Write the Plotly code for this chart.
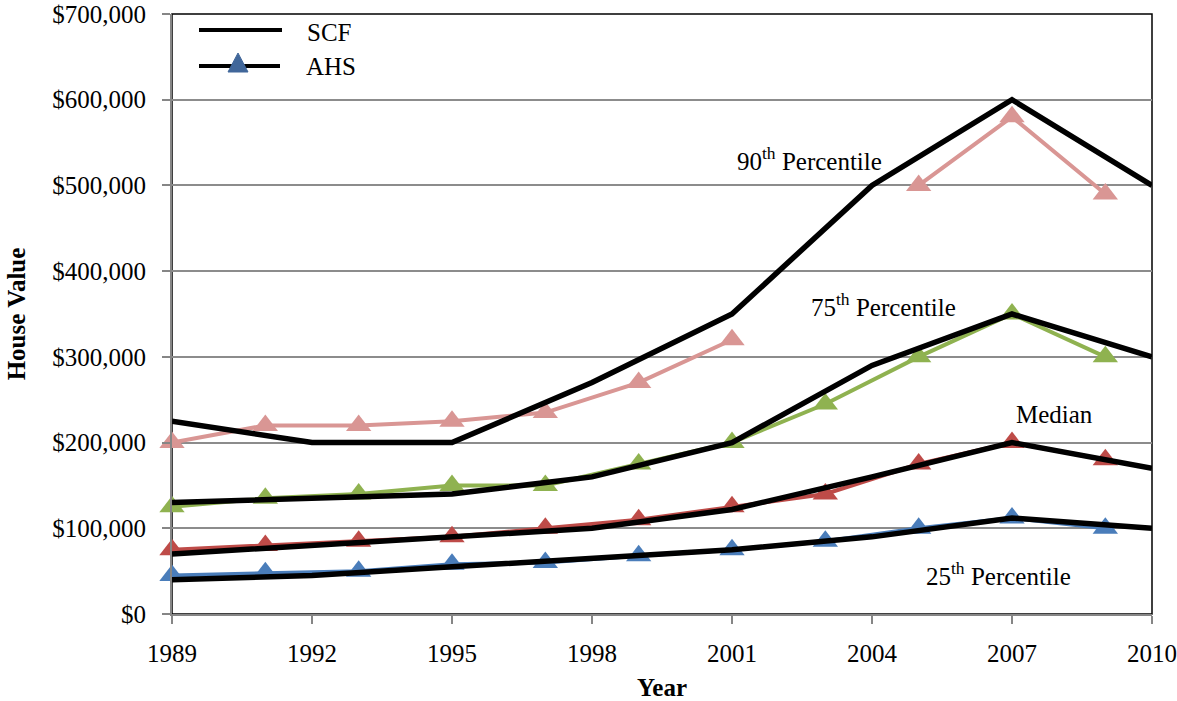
import plotly.graph_objects as go

# Survey years
scf_years = [1989, 1992, 1995, 1998, 2001, 2004, 2007, 2010]
ahs_years = [1989, 1991, 1993, 1995, 1997, 1999, 2001, 2003, 2005, 2007, 2009]

# SCF house value percentiles
scf_p90 = [225000, 200000, 200000, 270000, 350000, 500000, 600000, 500000]
scf_p75 = [130000, 135000, 140000, 160000, 200000, 290000, 350000, 300000]
scf_med = [70000, 80000, 90000, 100000, 122000, 160000, 200000, 170000]
scf_p25 = [40000, 45000, 55000, 65000, 75000, 90000, 112000, 100000]

# AHS house value percentiles (no 90th percentile value for 2003)
ahs_p90 = [200000, 220000, 220000, 225000, 235000, 270000, 320000, None, 500000, 580000, 490000]
ahs_p75 = [125000, 135000, 140000, 150000, 150000, 175000, 200000, 245000, 300000, 350000, 300000]
ahs_med = [75000, 80000, 85000, 90000, 100000, 110000, 125000, 140000, 175000, 200000, 180000]
ahs_p25 = [45000, 48000, 50000, 58000, 60000, 68000, 75000, 85000, 100000, 112000, 100000]

ahs_colors = {"p90": "#D99694", "p75": "#8FB250", "med": "#BE4B48", "p25": "#4A7DBA"}

# Percentile labels: (text, year, value)
labels = [
    ("90<sup>th</sup> Percentile", 2002.67, 531000),
    ("75<sup>th</sup> Percentile", 2004.25, 361000),
    ("Median", 2007.9, 233000),
    ("25<sup>th</sup> Percentile", 2006.7, 47000),
]

FONT = "'Liberation Serif', 'Times New Roman', serif"
W, H = 1177, 701
ML, MR, MT, MB = 172, 25, 14, 87


def paper_x(px):
    return (px - ML) / (W - ML - MR)


def paper_y(py):
    return (H - MB - py) / (H - MT - MB)


fig = go.Figure()

for key, vals in [("p90", ahs_p90), ("p75", ahs_p75), ("med", ahs_med), ("p25", ahs_p25)]:
    fig.add_trace(go.Scatter(
        x=ahs_years, y=vals, mode="lines+markers", connectgaps=False,
        line=dict(color=ahs_colors[key], width=4),
        marker=dict(symbol="triangle-up", size=22, color=ahs_colors[key]),
        showlegend=False, cliponaxis=False,
    ))

for vals in [scf_p90, scf_p75, scf_med, scf_p25]:
    fig.add_trace(go.Scatter(
        x=scf_years, y=vals, mode="lines",
        line=dict(color="black", width=5.5),
        showlegend=False, cliponaxis=False,
    ))

for text, yr, val in labels:
    fig.add_annotation(x=yr, y=val, text=text, showarrow=False,
                       font=dict(family=FONT, size=25, color="black"),
                       xanchor="center", yanchor="middle")

# Plot-area frame (top and right edges show in black)
shapes = [dict(type="rect", xref="paper", yref="paper", x0=0, x1=1, y0=0, y1=1,
               line=dict(color="black", width=1.5), layer="below")]

# Legend key
shapes.append(dict(type="line", xref="paper", yref="paper",
                   x0=paper_x(199), x1=paper_x(282), y0=paper_y(30), y1=paper_y(30),
                   line=dict(color="black", width=4)))
shapes.append(dict(type="line", xref="paper", yref="paper",
                   x0=paper_x(199), x1=paper_x(280), y0=paper_y(66), y1=paper_y(66),
                   line=dict(color="black", width=4)))
tri = "M {} {} L {} {} L {} {} Z".format(
    paper_x(228), paper_y(72), paper_x(248), paper_y(72), paper_x(238), paper_y(53))
shapes.append(dict(type="path", xref="paper", yref="paper", path=tri,
                   fillcolor="#41679A", line=dict(color="#41679A", width=1)))
fig.add_annotation(xref="paper", yref="paper", x=paper_x(305), y=paper_y(32),
                   text="SCF", showarrow=False, xanchor="left", yanchor="middle",
                   font=dict(family=FONT, size=25, color="black"))
fig.add_annotation(xref="paper", yref="paper", x=paper_x(304), y=paper_y(66),
                   text="AHS", showarrow=False, xanchor="left", yanchor="middle",
                   font=dict(family=FONT, size=25, color="black"))

fig.update_layout(
    width=W, height=H,
    margin=dict(l=ML, r=MR, t=MT, b=MB, autoexpand=False),
    paper_bgcolor="white", plot_bgcolor="white",
    font=dict(family=FONT, size=25, color="black"),
    shapes=shapes,
    xaxis=dict(
        range=[1989, 2010], tickmode="linear", tick0=1989, dtick=3,
        showgrid=False, zeroline=False, automargin=False,
        showline=True, linecolor="#868686", linewidth=2,
        ticks="outside", ticklen=8, tickcolor="#868686", tickwidth=1.5,
        ticklabelstandoff=8,
        tickfont=dict(family=FONT, size=25),
        title=dict(text="<b>Year</b>", font=dict(family=FONT, size=25), standoff=12),
        fixedrange=True,
    ),
    yaxis=dict(
        range=[0, 700000], tickmode="linear", tick0=0, dtick=100000,
        tickprefix="$", tickformat=",d",
        showgrid=True, gridcolor="#8C8C8C", gridwidth=2,
        zeroline=False, automargin=False,
        showline=True, linecolor="#868686", linewidth=2,
        ticks="outside", ticklen=8, tickcolor="#868686", tickwidth=1.5,
        ticklabelstandoff=11,
        tickfont=dict(family=FONT, size=25),
        title=dict(text="<b>House Value</b>", font=dict(family=FONT, size=25), standoff=20),
        fixedrange=True,
    ),
)

fig.write_html("out.html")
